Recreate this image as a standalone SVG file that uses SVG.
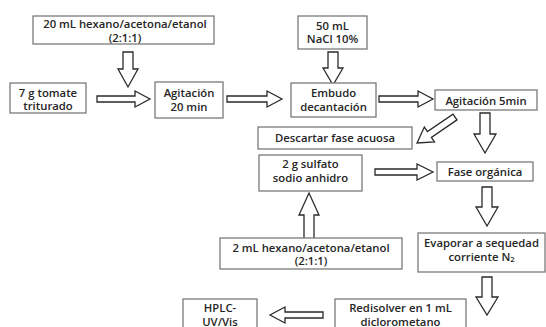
<svg xmlns="http://www.w3.org/2000/svg" width="546" height="327" viewBox="0 0 546 327">
  <style>
    .box { fill: #ffffff; stroke: #7a7a7a; stroke-width: 1.3; }
    .arrow { fill: #ffffff; stroke: #2a2a2a; stroke-width: 1.3; stroke-linejoin: miter; }
    text { font-family: "Open Sans", "Liberation Sans", sans-serif; font-size: 11.3px; font-weight: 600; fill: #262626; text-anchor: middle; dominant-baseline: central; }
  </style>
  <rect width="546" height="327" fill="#ffffff"/>

  <!-- connectors: outlined block arrows -->
  <g id="connectors">
    <!-- solvent into first stirring -->
    <path class="arrow" d="M123,52 H133 V69 H138 L128,87 L118,69 H123 Z"/>
    <!-- tomato to stirring -->
    <path class="arrow" d="M97,96 H135 V91 L150,99 L135,107 V102 H97 Z"/>
    <!-- stirring to separatory funnel -->
    <path class="arrow" d="M227,96 H267 V91 L282,99 L267,107 V102 H227 Z"/>
    <!-- NaCl into funnel -->
    <path class="arrow" d="M328,52 H338 V68 H343 L333,85 L323,68 H328 Z"/>
    <!-- funnel to 5 min stirring -->
    <path class="arrow" d="M379,96 H418 V91 L433,99 L418,107 V102 H379 Z"/>
    <!-- stirring to organic phase -->
    <path class="arrow" d="M480,113 H490 V134 H496 L485,153 L474,134 H480 Z"/>
    <!-- discard aqueous phase (diagonal) -->
    <path class="arrow" transform="translate(455,117) rotate(145.6)" d="M0,-3.5 H31 V-9 L46,0 L31,9 V3.5 H0 Z"/>
    <!-- drying salt to organic phase -->
    <path class="arrow" d="M375,169 H417 V164 L433,172 L417,180 V175 H375 Z"/>
    <!-- organic phase to evaporation -->
    <path class="arrow" d="M482,187 H492 V207 H498 L487,226 L476,207 H482 Z"/>
    <!-- rinse solvent up to drying salt -->
    <path class="arrow" d="M304,243 H314 V215 H319 L309,193 L299,215 H304 Z"/>
    <!-- evaporation to redissolution -->
    <path class="arrow" d="M482,277 H492 V297 H498 L487,315 L476,297 H482 Z"/>
    <!-- redissolution to HPLC -->
    <path class="arrow" d="M323,312 H285 V307 L270,315 L285,323 V318 H323 Z"/>
  </g>

  <g id="n-solvente">
    <rect class="box" x="33" y="16" width="181" height="28"/>
    <text x="125" y="23" font-size="11">20 mL hexano/acetona/etanol</text>
    <text x="125" y="37" font-size="11">(2:1:1)</text>
  </g>
  <g id="n-tomate">
    <rect class="box" x="10" y="83" width="76" height="30"/>
    <text x="48" y="92">7 g tomate</text>
    <text x="48" y="105.5">triturado</text>
  </g>
  <g id="n-agitacion20">
    <rect class="box" x="155" y="82" width="68" height="36"/>
    <text x="189" y="92.5">Agitación</text>
    <text x="189" y="106">20 min</text>
  </g>
  <g id="n-nacl">
    <rect class="box" x="298" y="16" width="69" height="33"/>
    <text x="332.5" y="25">50 mL</text>
    <text x="332.5" y="38.5">NaCl 10%</text>
  </g>
  <g id="n-embudo">
    <rect class="box" x="291" y="83" width="85" height="34"/>
    <text x="333.5" y="92">Embudo</text>
    <text x="333.5" y="106">decantación</text>
  </g>
  <g id="n-agitacion5">
    <rect class="box" x="435" y="90" width="102" height="20"/>
    <text x="486" y="100">Agitación 5min</text>
  </g>
  <g id="n-descartar">
    <rect class="box" x="258" y="127" width="154" height="22"/>
    <text x="335" y="137.5">Descartar fase acuosa</text>
  </g>
  <g id="n-sulfato">
    <rect class="box" x="259" y="155" width="103" height="36"/>
    <text x="310.5" y="163.5">2 g sulfato</text>
    <text x="310.5" y="177.5">sodio anhidro</text>
  </g>
  <g id="n-organica">
    <rect class="box" x="437" y="162" width="96" height="19"/>
    <text x="485" y="171.5">Fase orgánica</text>
  </g>
  <g id="n-lavado">
    <rect class="box" x="220" y="238" width="182" height="31"/>
    <text x="311" y="247">2 mL hexano/acetona/etanol</text>
    <text x="311" y="260.5">(2:1:1)</text>
  </g>
  <g id="n-evaporar">
    <rect class="box" x="418" y="233" width="127" height="39"/>
    <text x="481.5" y="242.5">Evaporar a sequedad</text>
    <text x="481.5" y="256">corriente N<tspan font-size="7.5" dy="3">2</tspan></text>
  </g>
  <g id="n-redisolver">
    <rect class="box" x="335" y="299" width="131" height="40"/>
    <text x="400.5" y="307.5">Redisolver en 1 mL</text>
    <text x="400.5" y="321">diclorometano</text>
  </g>
  <g id="n-hplc">
    <rect class="box" x="183" y="299" width="74" height="40"/>
    <text x="220" y="307.5">HPLC-</text>
    <text x="220" y="321">UV/Vis</text>
  </g>
</svg>
